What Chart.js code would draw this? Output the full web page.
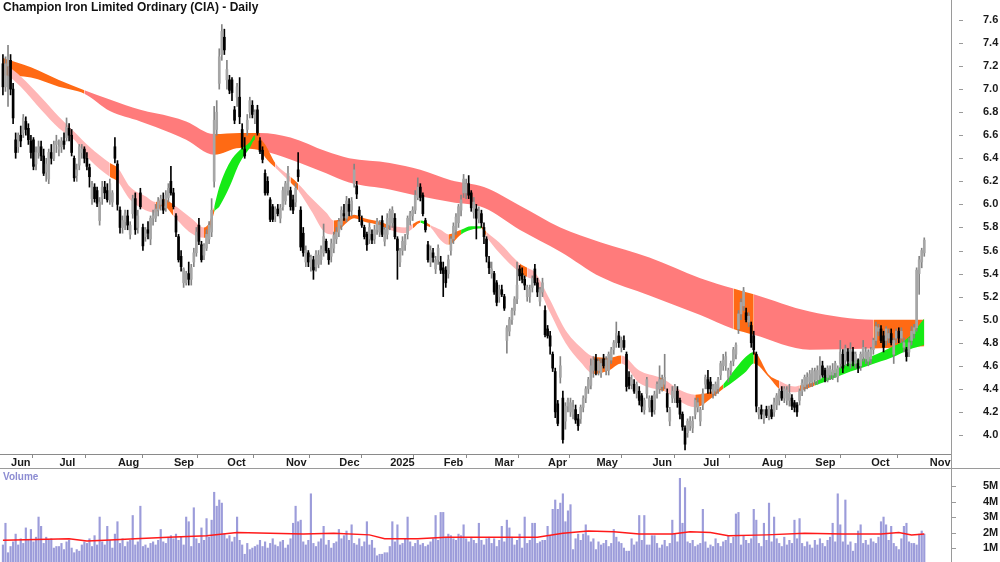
<!DOCTYPE html>
<html>
<head>
<meta charset="utf-8">
<script src="https://cdn.jsdelivr.net/npm/chart.js@4.4.1/dist/chart.umd.min.js"></script>
<style>
html, body { margin: 0; padding: 0; background: #fff; }
#wrap { position: relative; width: 1000px; height: 562px; overflow: hidden; }
#price { position: absolute; left: 0; top: 0; }
#vol { position: absolute; left: 0; top: 469px; }
#title { position: absolute; left: 3px; top: 0px; font: bold 12px "Liberation Sans", Arial, sans-serif; color: #111; }
#volLabel { position: absolute; left: 3px; top: 471px; font: bold 10px "Liberation Sans", Arial, sans-serif; color: #8c8cd2; }
</style>
</head>
<body>
<div id="wrap">
  <canvas id="price" width="1000" height="469"></canvas>
  <canvas id="vol" width="1000" height="93"></canvas>
  <div id="title">Champion Iron Limited Ordinary (CIA) - Daily</div>
  <div id="volLabel">Volume</div>
</div>
<script>
// daily candles per month: [open, high, low, close]
const may24 = [[7.22,7.30,6.95,7.02],[7.02,7.28,6.98,7.22]];
const jun24 = [[7.2,7.38,6.85,7.28],[7.25,7.3,6.95,7.0],[7.0,7.05,6.7,6.75],[6.56,6.62,6.4,6.45],[6.5,6.62,6.45,6.6],[6.6,6.68,6.5,6.55],[6.62,6.78,6.58,6.75],[6.72,6.76,6.6,6.65],[6.66,6.7,6.52,6.56],[6.55,6.6,6.4,6.45],[6.56,6.58,6.3,6.33],[6.35,6.5,6.3,6.45],[6.45,6.55,6.4,6.5],[6.5,6.55,6.38,6.42],[6.42,6.48,6.25,6.27],[6.28,6.4,6.2,6.35],[6.22,6.48,6.18,6.45],[6.45,6.52,6.35,6.4],[6.4,6.55,6.38,6.52]];
const jul24 = [[6.52,6.6,6.45,6.55],[6.48,6.56,6.42,6.5],[6.5,6.58,6.45,6.55],[6.55,6.62,6.48,6.52],[6.58,6.75,6.55,6.67],[6.66,6.7,6.55,6.6],[6.6,6.65,6.42,6.45],[6.4,6.42,6.2,6.23],[6.25,6.35,6.2,6.3],[6.34,6.52,6.3,6.5],[6.45,6.52,6.4,6.48],[6.48,6.5,6.36,6.4],[6.4,6.45,6.3,6.33],[6.32,6.35,6.15,6.24],[6.05,6.2,6.0,6.17],[6.15,6.18,6.02,6.05],[6.12,6.15,5.98,6.01],[5.86,6.06,5.82,6.02],[6.05,6.2,6.0,6.15],[6.15,6.2,6.05,6.1],[6.12,6.18,6.02,6.04],[6.04,6.22,6.0,6.18],[6.02,6.12,5.98,6.1]];
const aug24 = [[6.5,6.58,6.36,6.4],[6.35,6.38,5.95,6.0],[5.95,5.98,5.75,5.8],[5.8,5.9,5.75,5.86],[5.85,5.95,5.78,5.92],[5.9,5.95,5.78,5.82],[5.74,5.85,5.7,5.82],[5.92,6.08,5.88,6.05],[6.05,6.1,5.74,5.78],[5.8,5.95,5.75,5.9],[6.1,6.14,5.96,5.98],[5.8,5.83,5.6,5.64],[5.72,5.8,5.68,5.78],[5.78,5.85,5.7,5.75],[5.7,5.9,5.65,5.88],[5.88,5.95,5.82,5.9],[5.88,6.0,5.85,5.96],[5.95,6.06,5.9,6.03],[6.0,6.08,5.95,6.05],[6.04,6.1,5.92,5.95],[5.97,6.12,5.94,6.08],[6.06,6.18,6.02,6.14]];
const sep24 = [[6.2,6.33,6.08,6.1],[6.1,6.14,5.96,5.98],[5.9,5.92,5.72,5.76],[5.72,5.74,5.5,5.52],[5.55,5.6,5.42,5.46],[5.32,5.45,5.28,5.44],[5.32,5.42,5.3,5.4],[5.4,5.5,5.3,5.35],[5.35,5.48,5.3,5.45],[5.5,5.62,5.46,5.58],[5.58,5.8,5.55,5.76],[5.82,5.88,5.65,5.68],[5.65,5.68,5.5,5.52],[5.56,5.66,5.52,5.64],[5.62,5.78,5.6,5.74],[5.7,5.85,5.66,5.82],[5.76,6.05,5.72,5.95],[6.2,6.85,6.15,6.73],[6.65,6.9,6.6,6.8],[7.05,7.35,7.0,7.28],[7.3,7.56,7.25,7.5]];
const oct24 = [[7.45,7.52,7.3,7.34],[7.08,7.25,7.0,7.17],[7.08,7.12,6.96,6.99],[7.08,7.1,6.9,6.97],[6.82,6.85,6.7,6.73],[6.93,7.05,6.85,7.02],[6.93,7.1,6.7,6.76],[6.65,6.7,6.48,6.5],[6.48,6.58,6.4,6.42],[6.65,6.78,6.6,6.73],[6.8,6.93,6.75,6.9],[6.86,6.9,6.75,6.78],[6.75,6.82,6.7,6.8],[6.82,6.86,6.6,6.62],[6.55,6.58,6.44,6.46],[6.47,6.5,6.36,6.39],[6.27,6.3,6.08,6.1],[6.2,6.24,6.08,6.1],[6.04,6.06,5.85,5.87],[5.98,6.0,5.85,5.87],[5.9,5.98,5.85,5.96],[5.96,6.0,5.9,5.92],[5.88,6.0,5.84,5.97]];
const nov24 = [[5.98,6.15,5.95,6.12],[6.03,6.2,6.0,6.18],[6.12,6.33,6.08,6.27],[6.12,6.15,5.95,5.98],[6.04,6.08,5.92,5.95],[6.02,6.18,5.98,6.14],[6.3,6.45,6.2,6.24],[5.95,5.98,5.6,5.63],[5.75,5.8,5.55,5.58],[5.5,5.64,5.46,5.6],[5.58,5.6,5.46,5.5],[5.46,5.56,5.42,5.54],[5.52,5.55,5.35,5.43],[5.46,5.6,5.42,5.57],[5.48,5.6,5.45,5.56],[5.52,5.64,5.48,5.61],[5.58,5.83,5.55,5.72],[5.68,5.7,5.58,5.6],[5.6,5.62,5.48,5.52],[5.55,5.7,5.5,5.66],[5.62,5.76,5.58,5.73]];
const dec24 = [[5.7,5.8,5.66,5.76],[5.76,5.88,5.72,5.85],[5.82,5.98,5.78,5.95],[5.92,6.0,5.86,5.9],[5.88,6.07,5.85,6.03],[6.0,6.05,5.9,5.94],[5.95,6.06,5.9,6.03],[6.18,6.35,6.15,6.3],[6.16,6.2,6.05,6.09],[5.95,5.98,5.85,5.9],[5.86,5.9,5.8,5.82],[5.8,5.82,5.7,5.72],[5.74,5.76,5.6,5.65],[5.7,5.84,5.66,5.8],[5.74,5.78,5.66,5.69],[5.7,5.82,5.66,5.78],[5.78,5.88,5.74,5.85],[5.76,5.86,5.72,5.82],[5.86,5.9,5.72,5.74],[5.68,5.8,5.64,5.78]];
const jan25 = [[5.74,5.92,5.7,5.88],[5.82,5.96,5.78,5.94],[5.84,5.98,5.8,5.95],[5.88,5.92,5.7,5.72],[5.7,5.72,5.35,5.6],[5.5,5.62,5.46,5.6],[5.6,5.72,5.56,5.68],[5.65,5.74,5.6,5.7],[5.74,5.9,5.7,5.88],[5.86,5.94,5.82,5.92],[5.9,5.98,5.86,5.95],[5.95,6.12,5.92,6.08],[6.06,6.23,6.04,6.15],[6.15,6.18,6.03,6.06],[6.08,6.1,5.9,5.92],[5.86,5.88,5.76,5.78],[5.65,5.68,5.5,5.52],[5.5,5.64,5.46,5.6],[5.58,5.62,5.5,5.54],[5.44,5.55,5.4,5.52],[5.52,5.65,5.48,5.62]];
const feb25 = [[5.5,5.55,5.4,5.43],[5.45,5.5,5.2,5.4],[5.43,5.46,5.28,5.32],[5.4,5.56,5.36,5.52],[5.6,5.72,5.56,5.7],[5.7,5.84,5.66,5.81],[5.78,5.92,5.74,5.89],[5.84,6.0,5.8,5.98],[5.95,6.08,5.9,6.04],[6.1,6.26,6.06,6.22],[6.1,6.22,6.05,6.18],[6.18,6.25,6.05,6.08],[6.1,6.12,5.94,5.97],[5.93,6.06,5.88,6.02],[5.96,6.0,5.7,5.88],[5.87,5.98,5.84,5.94],[5.92,5.95,5.8,5.84],[5.8,5.84,5.66,5.72],[5.7,5.72,5.5,5.55],[5.5,5.55,5.4,5.45]];
const mar25 = [[5.4,5.5,5.36,5.44],[5.4,5.42,5.22,5.24],[5.32,5.34,5.12,5.15],[5.2,5.3,5.15,5.26],[5.26,5.3,5.2,5.22],[5.2,5.22,5.08,5.1],[4.82,4.95,4.71,4.93],[4.9,5.02,4.86,5.0],[5.0,5.1,4.96,5.08],[5.08,5.2,5.04,5.18],[5.18,5.5,5.14,5.3],[5.44,5.47,5.34,5.38],[5.4,5.45,5.32,5.35],[5.35,5.38,5.26,5.3],[5.2,5.3,5.16,5.28],[5.2,5.3,5.15,5.26],[5.28,5.38,5.24,5.36],[5.44,5.48,5.3,5.32],[5.32,5.36,5.2,5.24],[5.16,5.28,5.12,5.26],[5.24,5.36,5.2,5.32]];
const apr25 = [[5.08,5.12,4.85,4.87],[4.92,4.95,4.84,4.86],[4.86,4.9,4.7,4.77],[4.7,4.72,4.55,4.58],[4.55,4.58,4.15,4.2],[4.27,4.3,4.08,4.1],[4.5,4.68,4.45,4.6],[4.32,4.38,3.93,3.96],[4.12,4.28,4.05,4.25],[4.25,4.32,4.2,4.3],[4.2,4.32,4.16,4.28],[4.18,4.3,4.14,4.24],[4.22,4.26,4.1,4.13],[4.14,4.18,4.04,4.08],[4.14,4.26,4.1,4.24],[4.24,4.34,4.2,4.32],[4.32,4.42,4.28,4.4],[4.4,4.5,4.36,4.48],[4.43,4.66,4.4,4.6]];
const may25 = [[4.56,4.68,4.5,4.65],[4.66,4.7,4.52,4.56],[4.56,4.66,4.52,4.64],[4.54,4.66,4.5,4.62],[4.66,4.7,4.58,4.6],[4.56,4.68,4.52,4.65],[4.56,4.72,4.52,4.7],[4.65,4.76,4.62,4.74],[4.74,4.82,4.7,4.8],[4.8,4.98,4.76,4.88],[4.86,4.9,4.76,4.8],[4.76,4.85,4.72,4.82],[4.82,4.86,4.74,4.76],[4.7,4.72,4.38,4.42],[4.5,4.55,4.4,4.43],[4.44,4.52,4.4,4.48],[4.44,4.48,4.36,4.38],[4.36,4.46,4.32,4.44],[4.38,4.42,4.26,4.3],[4.34,4.36,4.2,4.25],[4.22,4.32,4.18,4.3],[4.36,4.5,4.32,4.48]];
const jun25 = [[4.24,4.34,4.2,4.32],[4.3,4.34,4.16,4.2],[4.22,4.38,4.18,4.35],[4.36,4.46,4.32,4.44],[4.4,4.6,4.36,4.48],[4.42,4.52,4.38,4.48],[4.44,4.7,4.4,4.5],[4.36,4.4,4.2,4.24],[4.12,4.24,4.08,4.22],[4.32,4.42,4.28,4.38],[4.32,4.44,4.28,4.42],[4.38,4.42,4.24,4.28],[4.3,4.32,4.14,4.18],[4.18,4.2,4.04,4.07],[4.06,4.08,3.87,3.92],[4.02,4.14,3.98,4.12],[4.08,4.16,4.04,4.12],[4.06,4.16,4.02,4.12],[4.18,4.32,4.14,4.3],[4.24,4.32,4.2,4.28]];
const jul25 = [[4.12,4.24,4.08,4.22],[4.26,4.4,4.22,4.36],[4.44,4.52,4.4,4.5],[4.48,4.56,4.36,4.4],[4.46,4.5,4.36,4.4],[4.36,4.44,4.32,4.42],[4.38,4.46,4.34,4.44],[4.4,4.5,4.36,4.48],[4.52,4.64,4.48,4.62],[4.6,4.7,4.56,4.65],[4.6,4.72,4.56,4.68],[4.5,4.58,4.46,4.56],[4.56,4.64,4.52,4.62],[4.64,4.76,4.6,4.74],[4.7,4.8,4.66,4.78],[4.92,5.08,4.88,5.05],[5.05,5.18,5.0,5.15],[5.12,5.28,5.08,5.25],[5.06,5.1,4.98,5.0],[4.98,5.06,4.94,5.03],[4.95,4.98,4.76,4.8],[4.86,4.9,4.7,4.74],[4.7,4.72,4.2,4.25]];
const aug25 = [[4.18,4.24,4.14,4.22],[4.22,4.26,4.14,4.18],[4.14,4.22,4.1,4.2],[4.22,4.25,4.15,4.17],[4.17,4.25,4.13,4.22],[4.22,4.26,4.14,4.16],[4.2,4.32,4.16,4.28],[4.26,4.36,4.22,4.34],[4.3,4.4,4.26,4.38],[4.38,4.42,4.3,4.32],[4.32,4.42,4.28,4.4],[4.3,4.42,4.26,4.39],[4.3,4.44,4.25,4.36],[4.32,4.35,4.22,4.25],[4.28,4.3,4.2,4.24],[4.26,4.28,4.16,4.2],[4.3,4.4,4.26,4.38],[4.38,4.48,4.34,4.45],[4.42,4.52,4.38,4.5],[4.44,4.54,4.4,4.5],[4.46,4.56,4.42,4.53]];
const sep25 = [[4.46,4.58,4.42,4.56],[4.48,4.58,4.44,4.55],[4.48,4.6,4.44,4.56],[4.52,4.68,4.48,4.6],[4.6,4.64,4.5,4.52],[4.56,4.58,4.46,4.5],[4.5,4.6,4.46,4.58],[4.52,4.6,4.48,4.57],[4.52,4.62,4.48,4.56],[4.54,4.64,4.5,4.62],[4.5,4.6,4.46,4.58],[4.62,4.82,4.58,4.72],[4.7,4.74,4.54,4.58],[4.65,4.78,4.6,4.75],[4.72,4.75,4.6,4.64],[4.62,4.8,4.58,4.74],[4.72,4.76,4.6,4.64],[4.62,4.72,4.58,4.7],[4.62,4.66,4.54,4.58],[4.6,4.72,4.56,4.7],[4.68,4.82,4.64,4.76],[4.66,4.76,4.62,4.72]];
const oct25 = [[4.64,4.74,4.6,4.72],[4.66,4.76,4.62,4.74],[4.74,4.84,4.7,4.82],[4.82,4.98,4.78,4.94],[4.9,4.96,4.86,4.93],[4.92,4.95,4.8,4.82],[4.86,4.9,4.72,4.76],[4.82,4.94,4.78,4.92],[4.84,4.92,4.8,4.88],[4.88,4.92,4.78,4.8],[4.7,4.84,4.62,4.82],[4.84,4.92,4.8,4.9],[4.9,4.93,4.8,4.84],[4.84,4.93,4.8,4.9],[4.76,4.84,4.72,4.8],[4.74,4.76,4.64,4.68],[4.72,4.84,4.68,4.8],[4.82,4.94,4.78,4.9],[4.88,4.96,4.84,4.93],[4.93,5.45,4.9,5.43],[5.4,5.55,5.22,5.52],[5.5,5.62,5.45,5.6],[5.58,5.71,5.55,5.69]];

const months = [may24, jun24, jul24, aug24, sep24, oct24, nov24, dec24, jan25, feb25, mar25, apr25, may25, jun25, jul25, aug25, sep25, oct25];
const monthNames = ['Jun', 'Jul', 'Aug', 'Sep', 'Oct', 'Nov', 'Dec', '2025', 'Feb', 'Mar', 'Apr', 'May', 'Jun', 'Jul', 'Aug', 'Sep', 'Oct', 'Nov'];
const priceTicks = [4.0, 4.2, 4.4, 4.6, 4.8, 5.0, 5.2, 5.4, 5.6, 5.8, 6.0, 6.2, 6.4, 6.6, 6.8, 7.0, 7.2, 7.4, 7.6];

// long-term band (sampled by day index)
const longIdx = [0,11,22,32,42,54,66,72,83,93,101,113,127,136,152,164,176,189,203,219,235,254,274,287,295,317,342,362];
const longTop = [7.27,7.19,7.08,6.99,6.91,6.82,6.76,6.72,6.61,6.62,6.62,6.58,6.46,6.40,6.36,6.30,6.21,6.15,5.99,5.80,5.67,5.54,5.36,5.27,5.22,5.07,5.00,5.00];
const longBot = [7.12,7.10,7.02,6.96,6.81,6.72,6.62,6.56,6.43,6.49,6.47,6.39,6.27,6.19,6.13,6.07,6.02,5.97,5.78,5.59,5.37,5.21,5.04,4.92,4.87,4.74,4.75,4.77];
const longTrend = ['mx','mx','mx','dn','dn','dn','dn','dn','mx','mx','dn','dn','dn','dn','dn','dn','dn','dn','dn','dn','dn','dn','dn','mx','dn','dn','mx','mx'];

// short-term band
const shortIdx = [2,7,15,22,28,34,42,45,50,56,60,63,67,74,79,81,83,85,89,93,97,99,103,107,113,116,121,127,130,134,138,142,148,152,158,161,164,166,168,172,175,180,184,188,190,195,203,206,209,215,221,227,232,238,243,250,258,260,266,272,280,283,288,292,295,301,305,311,313,319,325,333,341,349,356,362];
const shortTop = [7.20,7.11,6.93,6.76,6.63,6.50,6.36,6.32,6.15,6.07,6.02,6.05,6.00,5.88,5.80,5.84,5.98,6.15,6.36,6.47,6.54,6.60,6.52,6.36,6.24,6.18,6.06,5.93,5.86,5.88,5.91,5.88,5.85,5.82,5.80,5.83,5.86,5.85,5.82,5.78,5.74,5.78,5.81,5.81,5.76,5.67,5.49,5.45,5.41,5.17,4.91,4.76,4.68,4.67,4.69,4.56,4.50,4.48,4.39,4.35,4.39,4.44,4.58,4.68,4.72,4.52,4.47,4.42,4.43,4.46,4.54,4.63,4.68,4.76,4.85,5.01];
const shortBot = [7.12,7.02,6.82,6.66,6.56,6.39,6.24,6.20,6.04,5.95,5.93,5.99,5.90,5.75,5.71,5.75,5.93,5.98,6.15,6.36,6.49,6.56,6.41,6.32,6.19,6.12,5.95,5.75,5.74,5.82,5.88,5.85,5.82,5.78,5.75,5.79,5.84,5.82,5.80,5.69,5.65,5.74,5.78,5.79,5.72,5.58,5.41,5.37,5.33,5.06,4.80,4.63,4.53,4.56,4.62,4.45,4.39,4.38,4.29,4.24,4.35,4.40,4.48,4.55,4.62,4.50,4.40,4.37,4.38,4.43,4.48,4.55,4.61,4.67,4.74,4.78];
const shortTrend = ['dn','dn','dn','dn','dn','dn','mx','dn','dn','dn','mx','mx','dn','dn','mx','mx','up','up','up','up','up','mx','mx','dn','mx','dn','dn','dn','mx','mx','mx','mx','mx','dn','dn','mx','up','mx','dn','dn','mx','up','up','mx','dn','dn','mx','dn','dn','dn','dn','dn','mx','mx','dn','dn','mx','dn','dn','mx','mx','up','up','up','mx','mx','dn','dn','mx','up','up','up','up','up','up','up'];

// volume in millions, one per day
const volume = [
  1.2,2.6,0.7,1.1,1.4,1.9,1.2,1.6,1.3,2.3,1.5,2.2,1.4,1.7,3.0,2.4,1.3,1.7,1.5,1.6,
  1.0,1.1,1.1,1.3,0.9,1.4,1.5,1.0,0.7,0.9,0.8,1.2,1.4,1.3,1.6,1.1,1.8,1.2,3.0,1.4,
  1.2,2.4,1.5,1.0,1.9,2.7,1.3,1.6,1.1,1.4,1.5,3.1,1.2,1.4,3.7,1.1,1.2,1.0,1.3,1.4,
  1.2,1.5,2.2,1.4,1.3,1.7,1.8,1.6,1.9,1.5,1.7,1.2,3.0,2.7,1.1,3.6,1.6,1.3,2.3,1.5,
  2.9,1.7,2.8,4.6,3.7,4.1,3.9,1.9,1.6,1.8,1.4,1.7,3.0,1.5,1.2,0.6,1.3,0.9,1.0,1.1,
  1.2,1.5,1.1,1.4,1.0,1.3,1.6,1.2,1.1,1.4,1.5,1.0,1.2,1.6,2.6,3.7,2.7,2.8,1.4,1.2,
  1.5,4.5,1.3,1.1,1.4,1.6,2.4,1.2,1.5,1.0,1.3,1.4,2.2,1.6,1.8,2.1,1.5,2.5,1.3,1.2,
  1.6,1.1,1.4,2.7,1.2,1.5,1.0,0.5,0.6,0.6,0.7,0.7,1.1,2.7,1.4,2.5,1.2,1.3,1.6,3.0,
  1.4,1.1,1.3,1.5,1.2,1.3,1.1,1.2,1.4,1.6,3.1,1.5,3.3,3.3,1.7,1.9,1.8,1.6,1.5,1.9,
  1.8,2.5,1.6,1.4,1.7,1.5,1.3,2.6,1.5,1.2,1.6,1.7,1.3,1.6,1.1,1.5,2.4,1.4,2.8,2.3,
  1.7,1.2,1.5,1.9,1.0,3.0,1.3,1.5,2.6,2.6,1.3,1.4,1.5,1.5,2.4,1.8,3.5,4.1,3.5,3.9,
  4.5,2.7,3.4,3.8,0.9,1.6,1.9,1.5,1.9,2.5,1.8,1.4,1.6,0.9,1.4,1.2,1.3,1.5,1.1,1.3,
  2.2,1.7,1.4,1.3,1.0,0.8,0.8,1.6,1.2,1.4,3.1,1.5,3.1,1.2,1.2,1.8,1.8,1.3,1.0,1.2,
  1.5,1.1,1.3,2.8,1.9,1.4,5.5,2.6,4.9,1.4,1.3,1.5,1.1,1.2,1.3,3.5,1.4,1.0,1.2,1.1,
  1.6,1.3,1.1,1.4,1.5,1.8,1.3,1.7,3.2,3.3,1.2,1.8,1.5,1.3,1.6,3.5,2.8,1.3,1.1,2.6,
  1.5,3.9,1.4,3.0,1.6,1.3,1.1,1.7,1.2,1.5,1.3,2.8,1.6,2.9,1.3,1.1,1.4,1.2,1.0,1.5,
  1.2,1.6,1.3,1.1,1.5,1.7,2.6,1.4,4.5,2.5,1.4,4.1,1.2,1.4,0.8,1.3,2.1,2.5,1.3,1.5,
  1.2,1.6,1.4,1.3,1.7,2.7,3.0,2.5,1.5,2.4,1.3,1.1,0.9,1.6,2.4,2.6,1.4,1.3,1.3,1.2,
  1.9,2.1,1.9
];
const volMaIdx = [0,26,33,40,52,65,80,92,105,118,130,144,150,163,174,196,210,220,230,240,250,263,270,278,285,300,315,330,345,352,357,362];
const volMa = [1.5,1.6,1.45,1.5,1.6,1.7,1.8,2.0,1.95,1.9,1.95,1.85,1.6,1.6,1.7,1.7,1.7,1.95,2.1,2.05,1.9,1.9,2.05,2.0,1.8,1.85,1.95,1.9,1.9,2.0,1.85,1.9];
const volTicks = [1, 2, 3, 4, 5];

// ---- build
const candles = months.flat();
const monthTicks = [];
let count = may24.length;
months.slice(1).forEach(m => { monthTicks.push(count); count += m.length; });
monthTicks.push(count);

const longColour = { dn: '#ff7b7b', mx: '#ff6a14' };
const shortColour = { dn: '#ffb6b6', mx: '#ff6a14', up: '#16ea16' };
const isUp = c => c[3] >= c[0];

const X_MIN = -1.15, X_MAX = 372.5;
const AXIS_W = 49;
const FONT = '"Liberation Sans", Arial, sans-serif';
Chart.defaults.font.family = FONT;

const axisMarks = {
  id: 'axisMarks',
  afterDraw(chart, args, opts) {
    const { ctx, chartArea, scales } = chart;
    const y = scales.y;
    ctx.save();
    ctx.strokeStyle = '#9a9a9a';
    ctx.lineWidth = 1;
    ctx.beginPath();
    y.ticks.forEach(t => {
      const py = Math.round(y.getPixelForValue(t.value)) + 0.5;
      ctx.moveTo(chartArea.right + opts.from, py);
      ctx.lineTo(chartArea.right + opts.to, py);
    });
    if (opts.frame) {
      const r = Math.round(chartArea.right) + 0.5;
      ctx.moveTo(r, chartArea.bottom);
      ctx.lineTo(r, chart.height);
      ctx.moveTo(0, chart.height - 0.5);
      ctx.lineTo(chart.width, chart.height - 0.5);
    }
    ctx.stroke();
    ctx.restore();
  }
};

function bandPair(idx, top, bot, trend, colours, order) {
  const pts = arr => idx.map((x, k) => ({ x, y: arr[k] }));
  const base = { type: 'line', borderWidth: 0, pointRadius: 0, cubicInterpolationMode: 'monotone', order };
  return [
    Object.assign({}, base, { data: pts(top), fill: false }),
    Object.assign({}, base, {
      data: pts(bot), fill: '-1', backgroundColor: colours[trend[0]],
      segment: { backgroundColor: c => colours[trend[c.p0DataIndex]] }
    })
  ];
}

new Chart(document.getElementById('price'), {
  type: 'bar',
  data: {
    datasets: [
      ...bandPair(longIdx, longTop, longBot, longTrend, longColour, 3),
      ...bandPair(shortIdx, shortTop, shortBot, shortTrend, shortColour, 2),
      {
        type: 'bar', order: 1, grouped: false, barThickness: 1,
        data: candles.map((c, i) => ({ x: i, y: [c[2], c[1]] })),
        backgroundColor: candles.map(c => isUp(c) ? '#858585' : '#000000')
      },
      {
        type: 'bar', order: 0, grouped: false, barThickness: 2, minBarLength: 1,
        data: candles.map((c, i) => ({ x: i, y: [Math.min(c[0], c[3]), Math.max(c[0], c[3])] })),
        backgroundColor: candles.map(c => isUp(c) ? '#a6a6a6' : '#000000')
      }
    ]
  },
  options: {
    responsive: false,
    animation: false,
    devicePixelRatio: 1,
    events: [],
    layout: { padding: 0, autoPadding: false },
    plugins: { legend: { display: false }, tooltip: { enabled: false }, axisMarks: { from: 8, to: 12, frame: true } },
    scales: {
      x: {
        type: 'linear', position: 'bottom', min: X_MIN, max: X_MAX, offset: false,
        grid: { display: true, drawOnChartArea: false, drawTicks: true, tickLength: 4, tickColor: '#8a8a8a' },
        border: { display: true, color: '#8a8a8a' },
        afterBuildTicks: s => { s.ticks = monthTicks.map(v => ({ value: v })); },
        afterFit: s => { s.height = 15; s.paddingLeft = 0; s.paddingRight = 0; },
        ticks: {
          autoSkip: false, maxRotation: 0, align: 'start', labelOffset: 3, padding: -2,
          color: '#1a1a1a', font: { size: 11, weight: 'bold' },
          callback: (v, i) => monthNames[i]
        }
      },
      y: {
        type: 'linear', position: 'right', min: 3.835, max: 7.773,
        grid: { display: false, drawTicks: false },
        border: { display: true, color: '#9a9a9a' },
        afterBuildTicks: s => { s.ticks = priceTicks.map(v => ({ value: v })); },
        afterFit: s => { s.width = AXIS_W; s.paddingTop = 0; s.paddingBottom = 0; },
        ticks: { padding: 32, color: '#1a1a1a', font: { size: 11, weight: 'bold' }, callback: v => v.toFixed(1) }
      }
    }
  },
  plugins: [axisMarks]
});

new Chart(document.getElementById('vol'), {
  type: 'bar',
  data: {
    datasets: [
      {
        type: 'line', order: 0, data: volMaIdx.map((x, k) => ({ x, y: volMa[k] })),
        borderColor: '#ff1a1a', borderWidth: 1.5, pointRadius: 0, fill: false
      },
      {
        type: 'bar', order: 1, grouped: false, barThickness: 1.5,
        data: volume.map((v, i) => ({ x: i, y: v })),
        backgroundColor: '#9c9cda'
      }
    ]
  },
  options: {
    responsive: false,
    animation: false,
    devicePixelRatio: 1,
    events: [],
    layout: { padding: 0, autoPadding: false },
    plugins: { legend: { display: false }, tooltip: { enabled: false }, axisMarks: { from: 1, to: 5, frame: false } },
    scales: {
      x: { type: 'linear', display: false, min: X_MIN, max: X_MAX, offset: false },
      y: {
        type: 'linear', position: 'right', min: 0.1, max: 6.1,
        grid: { display: false, drawTicks: false },
        border: { display: true, color: '#9a9a9a' },
        afterBuildTicks: s => { s.ticks = volTicks.map(v => ({ value: v })); },
        afterFit: s => { s.width = AXIS_W; s.paddingTop = 0; s.paddingBottom = 0; },
        ticks: { padding: 32, color: '#1a1a1a', font: { size: 11, weight: 'bold' }, callback: v => v + 'M' }
      }
    }
  },
  plugins: [axisMarks]
});
</script>
</body>
</html>
